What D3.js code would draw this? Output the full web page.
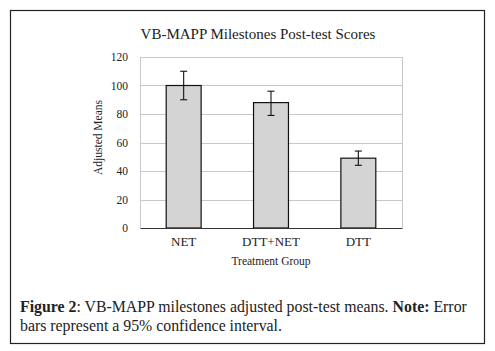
<!DOCTYPE html>
<html>
<head>
<meta charset="utf-8">
<script src="https://cdn.jsdelivr.net/npm/d3@7"></script>
<style>
    body { margin: 0; background: #fff; }
    svg { display: block; }
</style>
</head>
<body>
<div id="chart"></div>
<script>
// data
const groups = ['NET', 'DTT+NET', 'DTT'];
const means = [100, 88, 49];
const ciLow = [90, 79, 44];
const ciHigh = [110, 96, 54];
const yTicks = [0, 20, 40, 60, 80, 100, 120];

const serif = '"Liberation Serif", "Times New Roman", serif';

const width = 495,
    height = 351,
    margin = { top: 57, right: 93, bottom: 123, left: 140 },
    chartWidth = width - margin.left - margin.right,
    chartHeight = height - margin.top - margin.bottom;

const svg = d3.select('#chart').append('svg')
    .attr('width', width)
    .attr('height', height)
    .attr('font-family', serif);

// outer frame
svg.append('rect')
    .attr('x', 10.5).attr('y', 10.5)
    .attr('width', 474).attr('height', 333)
    .attr('fill', 'none')
    .attr('stroke', '#222')
    .attr('stroke-width', 1.2);

svg.append('text')
    .attr('x', 258).attr('y', 39)
    .attr('text-anchor', 'middle')
    .attr('font-size', 15)
    .attr('fill', '#222')
    .text('VB-MAPP Milestones Post-test Scores');

const g = svg.append('g')
    .attr('transform', `translate(${margin.left}, ${margin.top})`);

const x = d3.scaleBand().domain(groups).range([0, chartWidth]).paddingInner(0.6).paddingOuter(0.3);
const y = d3.scaleLinear().domain([0, 120]).range([chartHeight, 0]);

// gridlines
g.selectAll('.grid')
    .data(yTicks.slice(1))
    .enter()
    .append('line')
    .attr('x1', 0).attr('x2', chartWidth)
    .attr('y1', (d) => Math.round(y(d)) + 0.5)
    .attr('y2', (d) => Math.round(y(d)) + 0.5)
    .attr('stroke', '#c8c8c8');

// plot area side borders
g.append('line')
    .attr('x1', 0.5).attr('x2', 0.5).attr('y1', 0).attr('y2', chartHeight)
    .attr('stroke', '#c8c8c8');
g.append('line')
    .attr('x1', chartWidth + 0.5).attr('x2', chartWidth + 0.5).attr('y1', 0).attr('y2', chartHeight)
    .attr('stroke', '#c8c8c8');

// y axis labels
const yAxis = d3.axisLeft(y).tickValues(yTicks).tickSize(0).tickPadding(12);
g.append('g')
    .call(yAxis)
    .call((a) => a.select('.domain').remove())
    .selectAll('text')
    .attr('font-family', serif)
    .attr('font-size', 11.5)
    .attr('fill', '#222');

// bars
g.selectAll('.bar')
    .data(groups)
    .enter()
    .append('rect')
    .attr('x', (d) => x(d))
    .attr('y', (d, i) => y(means[i]))
    .attr('width', x.bandwidth())
    .attr('height', (d, i) => chartHeight - y(means[i]))
    .attr('fill', '#d4d4d4')
    .attr('stroke', '#111')
    .attr('stroke-width', 1.2);

// error bars
const err = g.selectAll('.err')
    .data(groups)
    .enter()
    .append('g')
    .attr('transform', (d) => `translate(${x(d) + x.bandwidth() / 2}, 0)`)
    .attr('stroke', '#111')
    .attr('stroke-width', 1.1);

err.append('line')
    .attr('y1', (d, i) => y(ciLow[i]))
    .attr('y2', (d, i) => y(ciHigh[i]));
err.append('line')
    .attr('x1', -3.5).attr('x2', 3.5)
    .attr('y1', (d, i) => y(ciLow[i]))
    .attr('y2', (d, i) => y(ciLow[i]));
err.append('line')
    .attr('x1', -3.5).attr('x2', 3.5)
    .attr('y1', (d, i) => y(ciHigh[i]))
    .attr('y2', (d, i) => y(ciHigh[i]));

// x axis
const xAxis = d3.axisBottom(x).tickSize(0).tickPadding(9);
g.append('g')
    .attr('transform', `translate(0, ${chartHeight})`)
    .call(xAxis)
    .call((a) => a.select('.domain').attr('stroke', '#333'))
    .selectAll('text')
    .attr('font-family', serif)
    .attr('font-size', 13)
    .attr('fill', '#222');

svg.append('text')
    .attr('x', 271).attr('y', 265)
    .attr('text-anchor', 'middle')
    .attr('font-size', 11.5)
    .attr('fill', '#222')
    .text('Treatment Group');

svg.append('text')
    .attr('transform', `translate(102, ${margin.top + chartHeight / 2 - 5}) rotate(-90)`)
    .attr('text-anchor', 'middle')
    .attr('font-size', 11.5)
    .attr('fill', '#222')
    .text('Adjusted Means');

// caption, stretched to the reference line width
const cap = svg.append('text')
    .attr('font-family', serif)
    .attr('font-size', 15)
    .attr('fill', '#222');
const line1 = cap.append('tspan').attr('x', 20).attr('y', 312);
line1.append('tspan').attr('font-weight', 'bold').text('Figure 2');
line1.append('tspan').text(': VB-MAPP milestones adjusted post-test means. ');
line1.append('tspan').attr('font-weight', 'bold').text('Note:');
line1.append('tspan').text(' Error');
cap.append('tspan').attr('x', 20).attr('y', 331)
    .text('bars represent a 95% confidence interval.');

const capWidth = cap.node().getBBox().width;
cap.attr('font-size', 15 * 447 / capWidth);
</script>
</body>
</html>
